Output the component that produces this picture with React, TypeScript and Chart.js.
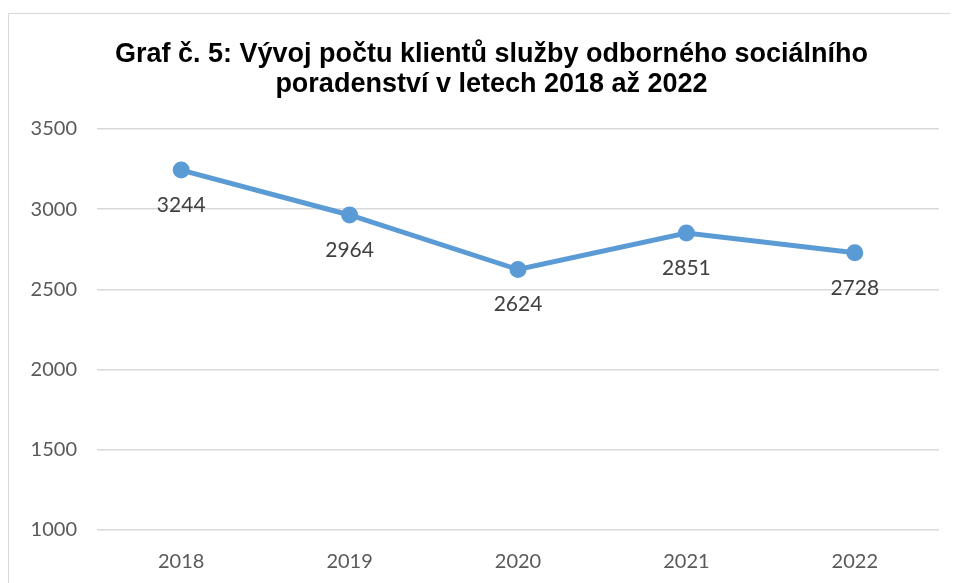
import React, { useEffect, useRef } from "react";
import { Chart, registerables } from "chart.js";

Chart.register(...registerables);

const categories = ["2018", "2019", "2020", "2021", "2022"];
const clients = [3244, 2964, 2624, 2851, 2728];
const titleLines = [
  "Graf č. 5: Vývoj počtu klientů služby odborného sociálního",
  "poradenství v letech 2018 až 2022",
];
const yTicks = { min: 1000, max: 3500, step: 500 };

const dataLabelPlugin = {
  id: "dataLabelsBelow",
  afterDatasetsDraw(chart: any) {
    const ctx = chart.ctx;
    const meta = chart.getDatasetMeta(0);
    const data = chart.data.datasets[0].data;
    ctx.save();
    ctx.font = "21px Lato, 'Open Sans', sans-serif";
    ctx.fillStyle = "#404040";
    ctx.textAlign = "center";
    ctx.textBaseline = "middle";
    meta.data.forEach((pt: any, i: number) => {
      ctx.fillText(String(data[i]), pt.x, pt.y + 35);
    });
    ctx.restore();
  },
};

const titlePlugin = {
  id: "customTitle",
  afterDraw(chart: any) {
    const ctx = chart.ctx;
    ctx.save();
    ctx.font = "bold 27px 'Liberation Sans', Arial, sans-serif";
    ctx.fillStyle = "#000000";
    ctx.textAlign = "center";
    ctx.textBaseline = "middle";
    const cx = chart.width / 2 + 8;
    titleLines.forEach((line, i) => {
      ctx.fillText(line, cx, 41 + i * 30);
    });
    ctx.restore();
  },
};

export default function App() {
  const ref = useRef<HTMLCanvasElement | null>(null);
  useEffect(() => {
    if (!ref.current) return;
    const chart = new Chart(ref.current, {
      type: "line",
      data: {
        labels: categories,
        datasets: [
          {
            data: clients,
            borderColor: "#5b9bd5",
            backgroundColor: "#5b9bd5",
            borderWidth: 5,
            pointRadius: 6,
            pointHoverRadius: 6,
            pointBackgroundColor: "#5b9bd5",
            pointBorderColor: "#5b9bd5",
            tension: 0,
          },
        ],
      },
      options: {
        animation: false,
        responsive: false,
        layout: { padding: { left: 0, right: 19, top: 115, bottom: 0 } },
        plugins: {
          legend: { display: false },
          tooltip: { enabled: false },
          title: { display: false },
        },
        scales: {
          x: {
            offset: true,
            grid: { display: false, drawTicks: false },
            border: { display: false },
            ticks: {
              color: "#595959",
              font: { family: "Lato, 'Open Sans', sans-serif", size: 20 },
              padding: 20,
            },
            afterFit(scale: any) {
              scale.height = 53;
            },
          },
          y: {
            min: yTicks.min,
            max: yTicks.max,
            border: { display: false },
            grid: { color: "#d9d9d9", lineWidth: 1.5, drawTicks: false },
            ticks: {
              stepSize: yTicks.step,
              color: "#595959",
              font: { family: "Lato, 'Open Sans', sans-serif", size: 20 },
              padding: 20,
              callback: (v: any) => String(v),
            },
            afterFit(scale: any) {
              scale.width = 88;
            },
          },
        },
      },
      plugins: [dataLabelPlugin, titlePlugin],
    });
    return () => chart.destroy();
  }, []);
  return (
    <div
      style={{
        marginTop: 5,
        width: 950,
        height: 570,
        borderTop: "1px solid #d9d9d9",
        borderLeft: "1px solid #d9d9d9",
        background: "#ffffff",
      }}
    >
      <canvas ref={ref} width={949} height={569} style={{ display: "block" }} />
    </div>
  );
}
